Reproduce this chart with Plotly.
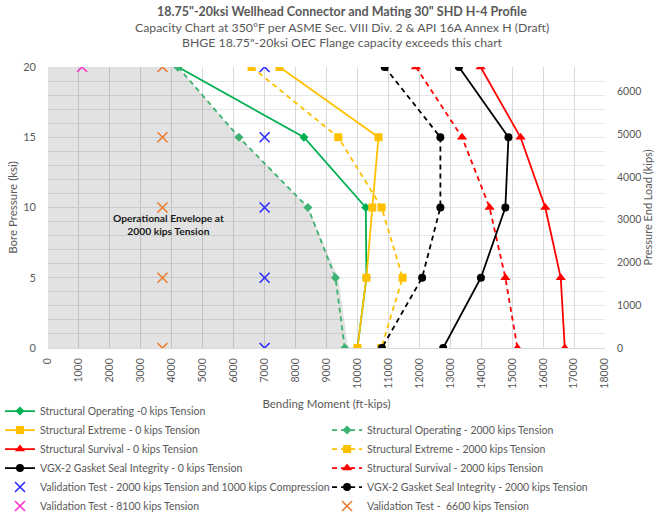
import plotly.graph_objects as go

# ---------------- data ----------------
pressure = [20, 15, 10, 5, 0]                      # Bore pressure (ksi)
op_0kips = [4200, 8270, 10270, 10290, 10000]       # Structural Operating - 0 kips
op_2000kips = [4200, 6170, 8400, 9290, 9590]       # Structural Operating - 2000 kips
envelope_2000kips = [4200, 6170, 8400, 9380, 9700] # Operational envelope (area)
ext_0kips = [7480, 10680, 10480, 10290, 10000]     # Structural Extreme - 0 kips
ext_2000kips = [6580, 9380, 10780, 11460, 10770]   # Structural Extreme - 2000 kips
surv_0kips = [13980, 15270, 16070, 16570, 16700]   # Structural Survival - 0 kips
surv_2000kips = [11890, 13380, 14270, 14780, 15170]# Structural Survival - 2000 kips
gasket_0kips = [13280, 14880, 14780, 13990, 12770] # VGX-2 gasket - 0 kips
gasket_2000kips = [10880, 12680, 12680, 12090, 10790]  # VGX-2 gasket - 2000 kips

val_2000_x = [7000, 7000, 7000, 7000, 7000]
val_2000_y = [20, 15, 10, 5, 0]
val_6600_x = [3700, 3700, 3700, 3700, 3700]
val_6600_y = [20, 15, 10, 5, 0]
val_8100_x = [1100]
val_8100_y = [20]

x_ticks = list(range(0, 18001, 1000))
y_ticks = [0, 5, 10, 15, 20]
y2_ticks = list(range(0, 6001, 1000))
y2_max = 6570

title_lines = [
    "<b>18.75\"-20ksi Wellhead Connector and Mating 30\" SHD H-4 Profile</b>",
    "Capacity Chart at 350°F per ASME Sec. VIII Div. 2 &amp; API 16A Annex H (Draft)",
    "BHGE 18.75\"-20ksi OEC Flange capacity exceeds this chart",
]

FONT = "Lato"
GREY = "#595959"

fig = go.Figure()

# operational envelope
fig.add_trace(go.Scatter(x=envelope_2000kips, y=pressure, mode="lines", fill="tozerox",
                         fillcolor="rgba(0,0,0,0.115)", line=dict(width=0),
                         showlegend=False, hoverinfo="skip"))

def add_line(name, xs, color, symbol, size, dash, legend):
    fig.add_trace(go.Scatter(
        x=xs, y=pressure, name=name, mode="lines+markers", legend=legend,
        line=dict(color=color, width=1.8, dash=dash),
        marker=dict(symbol=symbol, size=size, color=color)))

DASH = "5px,4px"
add_line("Structural Operating -0 kips Tension", op_0kips, "#00B050", "diamond", 7, "solid", "legend")
add_line("Structural Operating - 2000 kips Tension", op_2000kips, "#3CB371", "diamond", 7, DASH, "legend2")
add_line("Structural Extreme - 0 kips Tension", ext_0kips, "#FFC000", "square", 8, "solid", "legend")
add_line("Structural Extreme - 2000 kips Tension", ext_2000kips, "#FFC000", "square", 8, DASH, "legend2")
add_line("Structural Survival - 0 kips Tension", surv_0kips, "#FF0000", "triangle-up", 9, "solid", "legend")
add_line("Structural Survival - 2000 kips Tension", surv_2000kips, "#FF0000", "triangle-up", 9, DASH, "legend2")
add_line("VGX-2 Gasket Seal Integrity - 0 kips Tension", gasket_0kips, "#000000", "circle", 8, "solid", "legend")
add_line("VGX-2 Gasket Seal Integrity - 2000 kips Tension", gasket_2000kips, "#000000", "circle", 8, DASH, "legend2")

def add_x(name, xs, ys, color, legend):
    fig.add_trace(go.Scatter(
        x=xs, y=ys, name=name, mode="markers", legend=legend,
        marker=dict(symbol="x-thin", size=10, line=dict(color=color, width=1.6))))

add_x("Validation Test - 2000 kips Tension and 1000 kips Compression", val_2000_x, val_2000_y, "#2B2BFF", "legend")
add_x("Validation Test -  6600 kips Tension", val_6600_x, val_6600_y, "#ED7D31", "legend2")
add_x("Validation Test - 8100 kips Tension", val_8100_x, val_8100_y, "#FF33CC", "legend")

# secondary axis holder
fig.add_trace(go.Scatter(x=[None], y=[None], yaxis="y2", showlegend=False, hoverinfo="skip"))

fig.add_annotation(x=3900, y=8.78, xref="x", yref="y",
                   text="<b>Operational Envelope at<br>2000 kips Tension</b>",
                   showarrow=False, font=dict(family=FONT, size=10.3, color="#1a1a1a"))

# chart title (three lines)
for txt, ty, sz in zip(title_lines, [1.1968, 1.1399, 1.0865], [12.5, 12.3, 12.3]):
    fig.add_annotation(x=0.528, y=ty, xref="paper", yref="paper", xanchor="center",
                       yanchor="middle", text=txt, showarrow=False,
                       font=dict(family=FONT, size=sz, color=GREY))

legend_common = dict(orientation="v", yanchor="bottom", y=-0.614, xanchor="left",
                     traceorder="normal", font=dict(family=FONT, size=10.5, color=GREY),
                     bgcolor="rgba(0,0,0,0)", itemwidth=30)

fig.update_layout(
    width=657, height=513,
    margin=dict(l=48, r=52, t=67, b=165, pad=0, autoexpand=False),
    paper_bgcolor="white", plot_bgcolor="white",
    font=dict(family=FONT, color=GREY, size=10),
    xaxis=dict(range=[0, 18000], tickvals=x_ticks, tickformat="d", tickangle=-90,
               showgrid=True, gridcolor="#d9d9d9", gridwidth=1, automargin=False,
               zeroline=False, showline=True, linecolor="#d9d9d9",
               ticks="", ticklabelstandoff=5,
               tickfont=dict(size=10.5, color=GREY),
               title=dict(text="Bending Moment (ft-kips)", standoff=12,
                          font=dict(size=11.5, color=GREY))),
    yaxis=dict(range=[0, 20], tickvals=y_ticks, showgrid=True, gridcolor="#e6e6e6",
               minor=dict(dtick=1, showgrid=True, gridcolor="#e6e6e6"), automargin=False,
               zeroline=False, showline=False, ticks="", ticklabelstandoff=11,
               tickfont=dict(size=11, color=GREY),
               title=dict(text="Bore Pressure (ksi)", standoff=3,
                          font=dict(size=11.5, color=GREY))),
    yaxis2=dict(range=[0, y2_max], tickvals=y2_ticks, overlaying="y", side="right",
                showgrid=False, zeroline=False, ticks="", ticklabelstandoff=11, automargin=False,
                tickfont=dict(size=10.5, color=GREY),
                title=dict(text="Pressure End Load (kips)", standoff=3,
                           font=dict(size=11, color=GREY))),
    legend=dict(x=-0.0862, **legend_common),
    legend2=dict(x=0.501, **legend_common),
    showlegend=True,
)

# remove the browser's default 8px page margin so the figure fills the window
fig.write_html("out.html", config={"displayModeBar": False},
               post_script="document.body.style.margin='0px';")
